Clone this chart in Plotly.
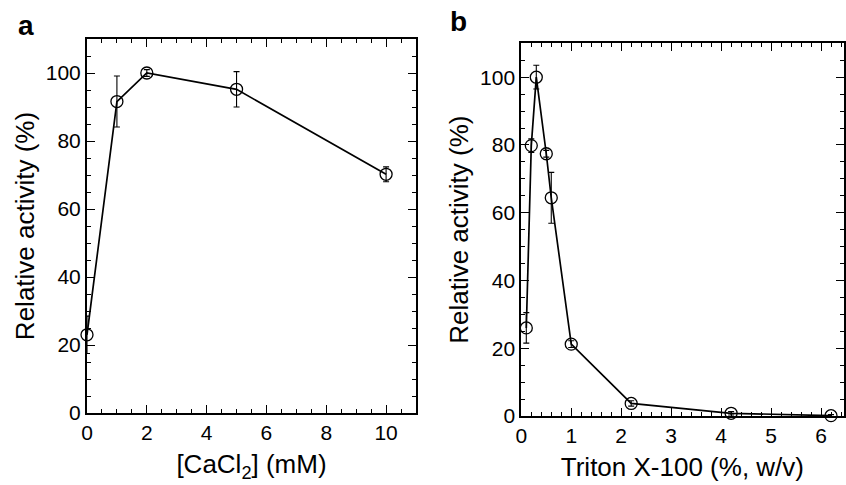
import plotly.graph_objects as go

# Panel a data
ca_x = [0, 1, 2, 5, 10]
ca_y = [23, 91.6, 100, 95.2, 70.2]
ca_err = [5.5, 7.5, 1.0, 5.2, 2.2]

# Panel b data
tr_x = [0.1, 0.2, 0.3, 0.5, 0.6, 1.0, 2.2, 4.2, 6.2]
tr_y = [26.0, 79.8, 100, 77.4, 64.4, 21.2, 3.7, 0.8, 0.1]
tr_err = [4.5, 2.0, 3.5, 1.0, 7.5, 1.0, 0.8, 0.5, 0.3]

W, H = 846, 485
FONT = "Liberation Sans, Arial, Helvetica, sans-serif"

fig = go.Figure()

def add_series(x, y, err, xa, ya):
    fig.add_trace(go.Scatter(
        x=x, y=y, mode="lines+markers", xaxis=xa, yaxis=ya,
        line=dict(color="black", width=1.7),
        marker=dict(symbol="circle-open", size=12, color="black", line=dict(width=1.3)),
        error_y=dict(type="data", array=err, visible=True, color="black", thickness=1.1, width=3),
        showlegend=False, cliponaxis=False,
    ))

add_series(ca_x, ca_y, ca_err, "x", "y")
add_series(tr_x, tr_y, tr_err, "x2", "y2")

def px_x(p):
    return p / W

def px_y(p):
    return 1 - p / H

axis_common = dict(
    showline=True, linecolor="black", linewidth=2, mirror="ticks",
    ticks="inside", ticklen=8, tickwidth=1.4, tickcolor="black",
    showgrid=False, zeroline=False,
    tickfont=dict(family=FONT, size=21, color="black"),
    automargin=False,
)
minor_common = dict(ticks="inside", ticklen=4, tickcolor="black", tickwidth=1.2)
TITLE_FONT = dict(family=FONT, size=26, color="black")

fig.update_layout(
    width=W, height=H,
    margin=dict(l=0, r=0, t=0, b=0),
    paper_bgcolor="white", plot_bgcolor="white",
    font=dict(family=FONT, color="black"),
    xaxis=dict(axis_common, domain=[px_x(87), px_x(416)], range=[0, 11], dtick=2,
               minor=dict(minor_common, dtick=0.5), anchor="y",
               title=dict(text="[CaCl<sub>2</sub>] (mM)", font=TITLE_FONT, standoff=12)),
    yaxis=dict(axis_common, domain=[px_y(413), px_y(39)], range=[0, 110], dtick=20,
               minor=dict(minor_common, dtick=5), anchor="x",
               title=dict(text="Relative activity (%)", font=TITLE_FONT, standoff=4)),
    xaxis2=dict(axis_common, domain=[px_x(521.3), px_x(843.5)], range=[0, 6.45], dtick=1,
                minor=dict(minor_common, dtick=0.2), anchor="y2",
                title=dict(text="Triton X-100 (%, w/v)", font=TITLE_FONT, standoff=12)),
    yaxis2=dict(axis_common, domain=[px_y(416), px_y(43.3)], range=[0, 110], dtick=20,
                minor=dict(minor_common, dtick=5), anchor="x2",
                title=dict(text="Relative activity (%)", font=TITLE_FONT, standoff=4)),
    annotations=[
        dict(text="<b>a</b>", x=px_x(26), y=px_y(25), xref="paper", yref="paper",
             xanchor="center", yanchor="middle",
             showarrow=False, font=dict(family=FONT, size=28, color="black")),
        dict(text="<b>b</b>", x=px_x(459), y=px_y(22), xref="paper", yref="paper",
             xanchor="center", yanchor="middle",
             showarrow=False, font=dict(family=FONT, size=28, color="black")),
    ],
)

fig.write_html("out.html", config={"displayModeBar": False},
               post_script="document.body.style.margin='0';")
